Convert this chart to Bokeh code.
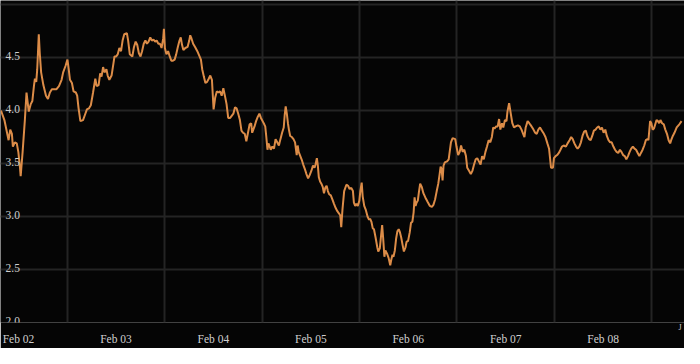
from bokeh.plotting import figure
from bokeh.models import Range1d, FixedTicker, Grid, Label, LinearAxis
from bokeh.embed import file_html
from bokeh.resources import INLINE

# time in hundredths of a year from "Feb 02"
t = [-18.0, -14.5, -11.8, -10.2, -8.5, -6.8, -5.8, -3.8, -1.8, -0.2, 1.5, 2.2, 4.2, 6.5, 8.2, 10.5,
     12.5, 14.2, 15.8, 16.8, 18.2, 19.2, 20.8, 21.8, 23.2, 25.5, 28.2, 30.2, 32.2, 34.2, 36.5, 38.8,
     41.5, 44.2, 45.8, 48.2, 50.2, 51.5, 52.8, 54.8, 56.5, 58.8, 60.2, 61.5, 63.5, 66.2, 68.2, 70.2,
     72.2, 74.2, 76.5, 78.8, 80.2, 82.2, 83.8, 85.2, 86.8, 88.2, 90.2, 91.5, 93.2, 95.5, 97.5, 98.5,
     100.2, 101.8, 103.5, 105.2, 106.8, 108.5, 111.2, 112.5, 114.2, 116.8, 118.5, 120.2, 121.8, 123.5,
     125.2, 126.8, 128.5, 130.2, 131.8, 133.5, 135.2, 136.8, 138.5, 140.2, 141.8, 143.5, 145.2, 146.8,
     148.5, 149.2, 150.2, 151.8, 153.5, 155.2, 156.8, 158.5, 160.2, 161.8, 163.5, 165.2, 166.5, 167.8,
     169.2, 171.2, 173.5, 175.2, 176.2, 177.5, 179.2, 181.2, 183.5, 185.8, 187.2, 188.5, 190.2, 191.8,
     193.5, 195.2, 196.8, 198.5, 200.2, 201.8, 203.5, 205.2, 206.8, 208.5, 210.2, 211.8, 213.5, 215.2,
     217.2, 220.5, 222.2, 223.8, 225.5, 227.2, 228.8, 230.5, 232.2, 233.8, 235.5, 237.2, 238.8, 239.8,
     242.2, 243.8, 245.5, 247.2, 248.8, 250.5, 252.2, 253.2, 254.2, 255.5, 256.5, 257.8, 258.8, 260.5,
     262.2, 263.8, 265.5, 267.2, 268.8, 270.5, 272.2, 273.2, 274.2, 275.5, 276.5, 277.5, 278.8, 280.5,
     282.2, 283.8, 285.5, 286.5, 287.5, 288.8, 290.5, 292.2, 293.8, 295.5, 297.2, 298.8, 300.5, 302.2,
     303.8, 304.8, 306.2, 307.2, 308.2, 309.5, 310.8, 312.2, 313.5, 314.8, 316.2, 317.5, 318.8, 320.5,
     322.2, 323.8, 325.5, 327.2, 328.8, 330.2, 331.2, 332.5, 334.2, 336.5, 338.2, 339.8, 341.5, 343.2,
     344.2, 345.5, 346.8, 348.2, 349.8, 350.8, 352.2, 353.2, 354.8, 356.5, 358.2, 359.8, 360.8, 362.2,
     363.5, 364.8, 366.5, 368.2, 369.2, 370.8, 372.2, 373.2, 374.2, 375.5, 376.5, 378.2, 379.8, 381.5,
     382.5, 383.8, 384.8, 386.2, 387.5, 388.8, 390.2, 391.5, 392.8, 394.2, 395.5, 397.2, 398.2, 399.8,
     401.5, 402.8, 404.2, 405.5, 406.5, 407.5, 408.5, 409.8, 410.8, 412.2, 413.8, 415.5, 417.5, 419.8,
     422.2, 424.2, 425.8, 427.5, 429.2, 430.8, 432.2, 433.2, 434.2, 435.2, 436.2, 437.5, 439.8, 441.5,
     442.5, 443.8, 445.5, 448.2, 449.5, 451.2, 452.8, 454.2, 455.8, 457.5, 459.2, 460.5, 462.5, 464.2,
     465.8, 467.5, 469.2, 470.8, 472.5, 474.2, 475.8, 477.5, 479.2, 480.8, 482.5, 484.2, 485.8, 487.2,
     488.5, 490.2, 491.8, 493.2, 494.5, 496.2, 497.5, 499.2, 500.8, 501.8, 503.5, 505.2, 506.8, 508.5,
     510.2, 512.5, 514.5, 516.2, 517.5, 519.2, 520.5, 522.5, 524.2, 525.8, 527.2, 528.5, 530.2, 531.8,
     533.5, 535.2, 537.2, 539.2, 540.8, 542.8, 544.5, 545.5, 546.5, 548.5, 549.5, 551.2, 552.8, 554.5,
     556.2, 557.8, 559.5, 561.8, 563.5, 565.5, 567.2, 568.8, 570.5, 572.2, 573.8, 575.5, 577.2, 578.8,
     580.5, 582.2, 583.8, 585.5, 587.2, 588.8, 590.5, 592.2, 593.8, 595.5, 597.2, 598.8, 600.5, 602.2,
     603.8, 605.5, 607.2, 608.8, 610.5, 612.2, 613.8, 615.5, 617.2, 618.8, 620.5, 622.2, 623.8, 625.5,
     627.2, 628.8, 630.5, 632.2, 633.8, 635.5, 637.2, 638.8, 640.5, 642.2, 643.8, 645.5, 646.5, 648.2,
     649.5, 650.8, 652.2, 653.5, 654.8, 656.2, 657.5, 658.8, 660.5, 662.2, 663.8, 665.5, 667.2, 668.8,
     669.8, 671.5, 673.2, 675.5, 678.2, 680.5]

values = [4.00, 3.91, 3.79, 3.72, 3.82, 3.78, 3.66, 3.70, 3.69, 3.61, 3.46, 3.38, 3.61, 3.91, 4.17, 3.99,
          4.06, 4.09, 4.23, 4.30, 4.27, 4.39, 4.72, 4.54, 4.36, 4.24, 4.14, 4.11, 4.17, 4.20, 4.20, 4.20,
          4.23, 4.29, 4.36, 4.42, 4.48, 4.39, 4.29, 4.26, 4.18, 4.17, 4.14, 4.03, 3.90, 3.91, 3.96, 4.01,
          4.02, 4.05, 4.17, 4.30, 4.23, 4.24, 4.35, 4.32, 4.41, 4.36, 4.39, 4.33, 4.29, 4.33, 4.45, 4.51,
          4.51, 4.53, 4.59, 4.56, 4.66, 4.72, 4.73, 4.66, 4.53, 4.51, 4.60, 4.65, 4.62, 4.54,
          4.51, 4.56, 4.63, 4.66, 4.63, 4.65, 4.69, 4.66, 4.67, 4.65, 4.66, 4.63, 4.63, 4.59,
          4.68, 4.77, 4.59, 4.53, 4.56, 4.51, 4.47, 4.47, 4.48, 4.53, 4.60, 4.66, 4.69, 4.62,
          4.57, 4.59, 4.60, 4.66, 4.71, 4.68, 4.63, 4.60, 4.56, 4.51, 4.48, 4.39, 4.32, 4.26,
          4.27, 4.30, 4.33, 4.29, 4.01, 4.12, 4.18, 4.17, 4.18, 4.14, 4.21, 4.14, 4.06, 3.93,
          3.93, 3.97, 4.03, 4.02, 3.97, 3.91, 3.81, 3.79, 3.78, 3.71, 3.79, 3.87, 3.88, 3.79,
          3.85, 3.90, 3.94, 3.97, 3.93, 3.90, 3.87, 3.85, 3.76, 3.63, 3.69, 3.66, 3.63, 3.66,
          3.64, 3.73, 3.70, 3.67, 3.73, 3.79, 3.84, 3.96, 4.04, 3.96, 3.88, 3.82, 3.76, 3.75,
          3.73, 3.70, 3.58, 3.67, 3.61, 3.58, 3.54, 3.49, 3.45, 3.40, 3.36, 3.39, 3.43, 3.48,
          3.46, 3.49, 3.55, 3.48, 3.37, 3.33, 3.31, 3.28, 3.22, 3.27, 3.29, 3.24, 3.21, 3.20,
          3.16, 3.12, 3.08, 3.05, 3.03, 3.01, 2.90, 3.07, 3.24, 3.30, 3.29, 3.26, 3.27, 3.24,
          3.13, 3.10, 3.12, 3.10, 3.15, 3.24, 3.32, 3.19, 3.10, 3.06, 3.00, 2.97, 2.98, 2.95,
          2.89, 2.88, 2.80, 2.71, 2.67, 2.70, 2.83, 2.92, 2.80, 2.62, 2.68, 2.65, 2.61, 2.54,
          2.59, 2.64, 2.62, 2.68, 2.79, 2.86, 2.88, 2.85, 2.80, 2.73, 2.67, 2.71, 2.76, 2.77,
          2.85, 2.94, 2.95, 3.04, 3.18, 3.10, 3.13, 3.15, 3.22, 3.31, 3.28, 3.22, 3.18, 3.14,
          3.10, 3.09, 3.11, 3.16, 3.24, 3.31, 3.40, 3.47, 3.45, 3.34, 3.48, 3.51, 3.52, 3.54,
          3.61, 3.70, 3.74, 3.73, 3.66, 3.58, 3.61, 3.67, 3.61, 3.63, 3.57, 3.46, 3.43, 3.40,
          3.43, 3.49, 3.54, 3.55, 3.52, 3.49, 3.57, 3.54, 3.61, 3.66, 3.72, 3.70, 3.75, 3.84,
          3.83, 3.85, 3.85, 3.92, 3.82, 3.88, 3.84, 3.91, 3.90, 3.99, 4.07, 3.97, 3.88, 3.84,
          3.85, 3.86, 3.85, 3.82, 3.79, 3.75, 3.84, 3.90, 3.88, 3.86, 3.84, 3.82, 3.79, 3.78,
          3.82, 3.84, 3.81, 3.78, 3.75, 3.69, 3.64, 3.55, 3.46, 3.46, 3.55, 3.57, 3.58, 3.60,
          3.63, 3.66, 3.67, 3.66, 3.69, 3.72, 3.75, 3.73, 3.69, 3.66, 3.64, 3.66, 3.70, 3.76,
          3.80, 3.81, 3.76, 3.73, 3.72, 3.76, 3.81, 3.82, 3.84, 3.85, 3.82, 3.84, 3.79, 3.82,
          3.76, 3.72, 3.70, 3.70, 3.66, 3.63, 3.61, 3.60, 3.63, 3.61, 3.58, 3.57, 3.54, 3.57,
          3.61, 3.64, 3.66, 3.64, 3.63, 3.60, 3.57, 3.60, 3.63, 3.67, 3.72, 3.73, 3.72, 3.90,
          3.88, 3.82, 3.83, 3.87, 3.91, 3.90, 3.88, 3.91, 3.88, 3.87, 3.82, 3.78, 3.72, 3.69,
          3.72, 3.76, 3.79, 3.84, 3.87, 3.90]

x_ticks = [0, 100, 200, 300, 400, 500, 600]
x_labels = ["Feb 02", "Feb 03", "Feb 04", "Feb 05", "Feb 06", "Feb 07", "Feb 08"]
x_grid = [50, 150, 250, 350, 450, 550, 650]
y_grid = [2.0, 2.5, 3.0, 3.5, 4.0, 4.5, 5.0]
y_labels = ["2.0", "2.5", "3.0", "3.5", "4.0", "4.5"]
edge_tick = [679]
edge_label = ["J"]

BG = "#050505"
GRID = "#242424"
TXT = "#cfcfcf"
FONT = "Liberation Serif"

p = figure(width=684, height=348, output_backend="svg", toolbar_location=None,
           x_range=Range1d(-18.5, 683.5), y_range=Range1d(2.0, 5.038),
           background_fill_color=BG, border_fill_color=BG, outline_line_color=None,
           min_border_left=0, min_border_right=0, min_border_top=0, min_border_bottom=26)

p.grid.visible = False
p.yaxis.visible = False


def style_axis(ax, size, standoff):
    ax.axis_line_color = None
    ax.major_tick_line_color = None
    ax.minor_tick_line_color = None
    ax.major_tick_out = 0
    ax.major_tick_in = 0
    ax.major_label_standoff = standoff
    ax.major_label_text_font = FONT
    ax.major_label_text_font_size = size
    ax.major_label_text_color = TXT


xa = p.xaxis[0]
xa.ticker = FixedTicker(ticks=x_ticks)
xa.major_label_overrides = {k: lab for k, lab in zip(x_ticks, x_labels)}
style_axis(xa, "11.5px", -2)

ja = LinearAxis(ticker=FixedTicker(ticks=edge_tick),
                major_label_overrides={k: lab for k, lab in zip(edge_tick, edge_label)})
style_axis(ja, "8px", 0)
p.below = [ja] + list(p.below)

p.add_layout(Grid(dimension=0, ticker=FixedTicker(ticks=x_grid),
                  grid_line_color=GRID, grid_line_width=2))
p.add_layout(Grid(dimension=1, ticker=FixedTicker(ticks=y_grid),
                  grid_line_color=GRID, grid_line_width=2))

p.line(t, values, line_color="#dc8c48", line_width=2)

for lab in y_labels:
    p.add_layout(Label(x=5, x_units="screen", y=float(lab), text=lab,
                       text_font=FONT, text_font_size="11.5px", text_color=TXT,
                       text_baseline="alphabetic", y_offset=2))

open("out.html", "w").write(file_html(p, INLINE))
